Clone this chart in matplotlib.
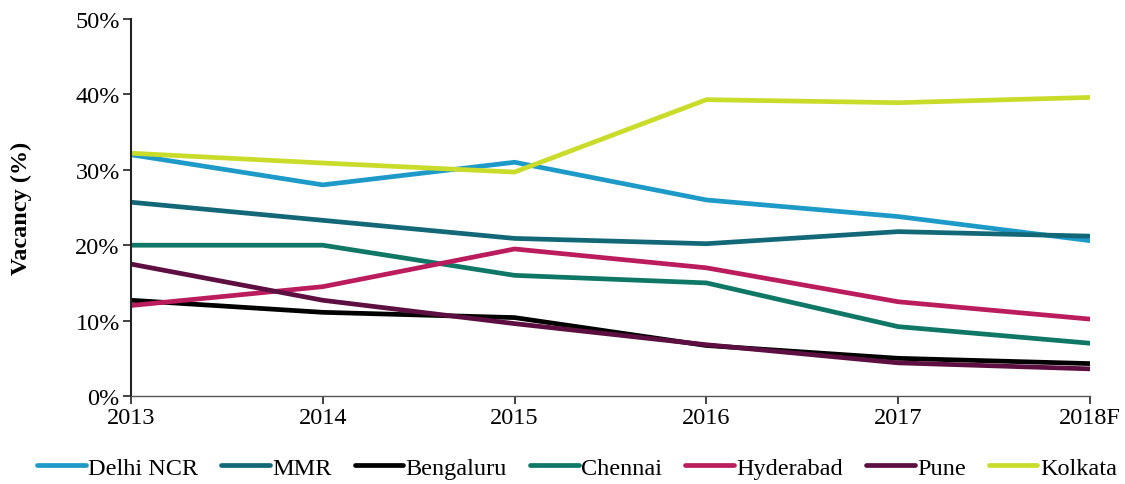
import numpy as np
import matplotlib.pyplot as plt
from matplotlib.ticker import FuncFormatter

plt.rcParams['font.family'] = ['Liberation Serif', 'DejaVu Serif']

years = ['2013', '2014', '2015', '2016', '2017', '2018F']

delhi = [32.0, 28.0, 31.0, 26.0, 23.8, 20.6]
mmr = [25.7, 23.3, 20.9, 20.2, 21.8, 21.2]
bengaluru = [12.7, 11.1, 10.4, 6.7, 5.0, 4.3]
chennai = [20.0, 20.0, 16.0, 15.0, 9.2, 7.0]
hyderabad = [12.0, 14.5, 19.5, 17.0, 12.5, 10.2]
pune = [17.5, 12.7, 9.6, 6.8, 4.4, 3.6]
kolkata = [32.2, 30.9, 29.7, 39.3, 38.9, 39.6]

series = [
    ('Delhi NCR', delhi, '#1e9ac8'),
    ('MMR', mmr, '#136878'),
    ('Bengaluru', bengaluru, '#000000'),
    ('Chennai', chennai, '#0e7765'),
    ('Hyderabad', hyderabad, '#ba1c5d'),
    ('Pune', pune, '#5e0f41'),
    ('Kolkata', kolkata, '#cadc2a'),
]

fs = 17.5

fig = plt.figure(figsize=(11.25, 4.85), dpi=100)
ax = fig.add_axes([0.1164, 0.1814, 0.8525, 0.7774])

x = np.arange(len(years))
for name, vals, col in series:
    ax.plot(x, vals, color=col, lw=3.4, label=name, solid_capstyle='round')

ax.set_xlim(0, len(years) - 1)
ax.set_ylim(0, 50)
ax.set_xticks(x)
ax.set_xticklabels(years)
ax.set_yticks(np.arange(0, 51, 10))
ax.yaxis.set_major_formatter(FuncFormatter(lambda v, p: f'{int(v)}%'))
ax.tick_params(labelsize=fs, length=6, color='#222222', width=1.2, pad=2)
ax.set_ylabel('Vacancy (%)', fontsize=fs, fontweight='bold', labelpad=31)

for s in ['top', 'right']:
    ax.spines[s].set_visible(False)
ax.spines['left'].set_linewidth(1.5)
ax.spines['bottom'].set_linewidth(1.0)
ax.spines['left'].set_color('#222222')
ax.spines['bottom'].set_color('#555555')

ax.legend(loc='center', bbox_to_anchor=(0.465, -0.19), ncol=7, frameon=False,
          fontsize=fs, handlelength=2.0, handletextpad=0.1, columnspacing=0.95,
          borderaxespad=0)

fig.savefig('out.png', dpi=100)
